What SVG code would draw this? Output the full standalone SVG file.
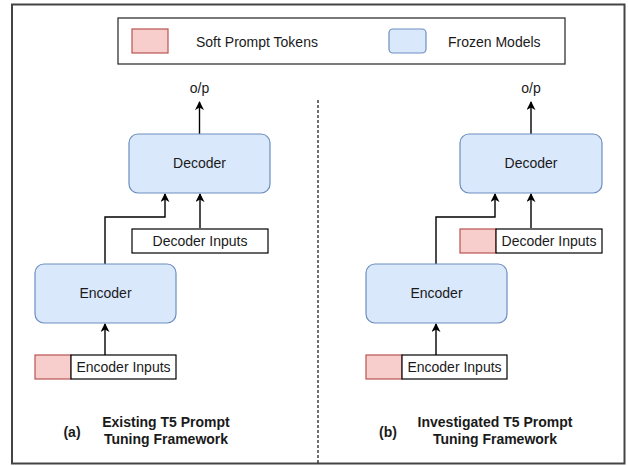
<svg xmlns="http://www.w3.org/2000/svg" width="628" height="466" viewBox="0 0 628 466">
<style>
text{font-family:"Liberation Sans",Arial,sans-serif;fill:#1a1a1a}
.t{font-size:14px;text-anchor:middle}
.b{font-size:14px;font-weight:bold;text-anchor:middle}
.model{fill:#dae8fc;stroke:#6c8ebf;stroke-width:1.2}
.soft{fill:#f8cecc;stroke:#b85450;stroke-width:1.2}
.inp{fill:#fff;stroke:#000;stroke-width:1.2}
.c{fill:none;stroke:#000;stroke-width:1.4;marker-end:url(#ah)}
</style>
<defs>
<marker id="ah" viewBox="0 0 10 10" refX="9" refY="5" markerWidth="9" markerHeight="9" orient="auto" markerUnits="userSpaceOnUse">
<path d="M0,0 L10,5 L0,10 L3,5 Z" fill="#000"/>
</marker>
</defs>
<rect width="628" height="466" fill="#fff"/>
<rect x="12" y="4.5" width="612.5" height="459" fill="none" stroke="#444" stroke-width="2"/>
<line x1="318" y1="100" x2="318" y2="463" stroke="#222" stroke-width="1.3" stroke-dasharray="3,2"/>
<g id="legend">
<rect x="118" y="18" width="447" height="46" fill="#fff" stroke="#333" stroke-width="1.3"/>
<rect x="132" y="29" width="36" height="24" class="soft"/>
<text x="196" y="47" style="font-size:14px">Soft Prompt Tokens</text>
<rect x="389" y="29" width="37" height="24" rx="4" class="model"/>
<text x="448" y="47" style="font-size:14px">Frozen Models</text>
</g>
<g id="connectors">
<path class="c" d="M199.5,134 V102"/>
<path class="c" d="M200,228 V194"/>
<path class="c" d="M105,264 V217 H165 V194"/>
<path class="c" d="M105,355 V324"/>
<path class="c" d="M531,134 V102"/>
<path class="c" d="M531,228 V194"/>
<path class="c" d="M436,264 V217 H495 V194"/>
<path class="c" d="M436,355 V324"/>
</g>
<g id="a-output"><text class="t" x="199.5" y="93">o/p</text></g>
<g id="a-decoder">
<rect x="129" y="134" width="141" height="59" rx="9" class="model"/>
<text class="t" x="199.5" y="168">Decoder</text>
</g>
<g id="a-decoder-inputs">
<rect x="132" y="229" width="136" height="24" class="inp"/>
<text class="t" x="200" y="246">Decoder Inputs</text>
</g>
<g id="a-encoder">
<rect x="35" y="264" width="141" height="59" rx="9" class="model"/>
<text class="t" x="105.5" y="298">Encoder</text>
</g>
<g id="a-encoder-inputs">
<rect x="35" y="355" width="36" height="24" class="soft"/>
<rect x="71" y="355" width="105" height="24" class="inp"/>
<text class="t" x="123.5" y="372">Encoder Inputs</text>
</g>
<g id="a-caption">
<text class="b" x="72" y="437">(a)</text>
<text class="b" x="166" y="427">Existing T5 Prompt</text>
<text class="b" x="166" y="444">Tuning Framework</text>
</g>
<g id="b-output"><text class="t" x="531" y="93">o/p</text></g>
<g id="b-decoder">
<rect x="460" y="134" width="142" height="59" rx="9" class="model"/>
<text class="t" x="531" y="168">Decoder</text>
</g>
<g id="b-decoder-inputs">
<rect x="460" y="229" width="36" height="24" class="soft"/>
<rect x="496" y="229" width="106" height="24" class="inp"/>
<text class="t" x="549" y="246">Decoder Inputs</text>
</g>
<g id="b-encoder">
<rect x="366" y="264" width="141" height="59" rx="9" class="model"/>
<text class="t" x="436.5" y="298">Encoder</text>
</g>
<g id="b-encoder-inputs">
<rect x="366" y="355" width="36" height="24" class="soft"/>
<rect x="402" y="355" width="105" height="24" class="inp"/>
<text class="t" x="454.5" y="372">Encoder Inputs</text>
</g>
<g id="b-caption">
<text class="b" x="388" y="437">(b)</text>
<text class="b" x="495" y="427">Investigated T5 Prompt</text>
<text class="b" x="495" y="444">Tuning Framework</text>
</g>
</svg>
